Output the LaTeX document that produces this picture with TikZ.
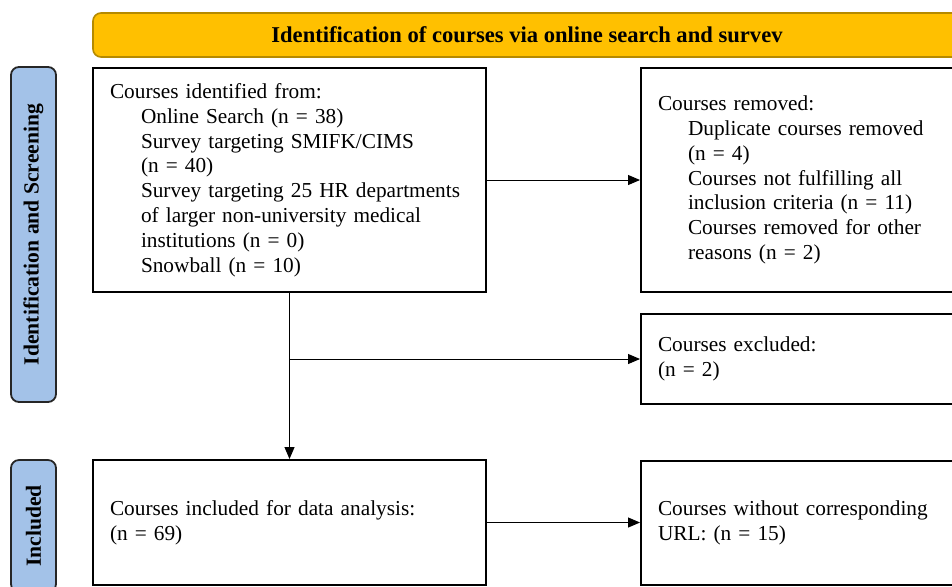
\documentclass[tikz,border=0pt]{standalone}
\usepackage{fontspec}
\setmainfont{Liberation Serif}
\usepackage{xcolor}
\usepackage{tikz}
\usetikzlibrary{positioning, arrows.meta, calc}

\definecolor{bannergold}{HTML}{FFC000}
\definecolor{bannerline}{HTML}{B58A00}
\definecolor{phaseblue}{HTML}{A3C2E8}

\tikzset{
  flowbox/.style={draw=black, line width=1pt, align=left, anchor=center,
    inner xsep=8.5pt, inner ysep=0pt, font=\fontsize{10.65}{12.4}\selectfont},
  phasebox/.style={draw=black!85, fill=phaseblue, line width=0.9pt, rounded corners=4pt,
    rotate=90, minimum height=22.5pt, inner sep=0pt,
    font=\fontsize{10.8}{12.3}\selectfont\bfseries},
  flowarrow/.style={-{Triangle[length=6pt,width=5pt]}, line width=0.5pt}
}

\begin{document}
\begin{tikzpicture}[x=0.5pt, y=-0.5pt]
\path[use as bounding box, clip] (0,0) rectangle (952,586);
% banner on top
\node[draw=bannerline, fill=bannergold, line width=0.8pt, rounded corners=4pt,
  minimum width=434pt, minimum height=22pt, inner sep=0pt,
  font=\fontsize{11.3}{12.3}\selectfont\bfseries] (banner) at (527,35)
  {Identification of courses via online search and survev};
% phase labels on the left
\node[phasebox, minimum width=167.5pt] (phaseid) at (33.5,234.5) {Identification and Screening};
\node[phasebox, minimum width=66pt] (phaseinc) at (33.5,526) {Included};
% left column
\node[flowbox, text width=179.5pt, minimum width=196.5pt, minimum height=112pt] (identified) at (289.5,180)
  {Courses identified from:\\
   \hspace*{15.5pt}Online Search (n = 38)\\
   \hspace*{15.5pt}Survey targeting SMIFK/CIMS\\
   \hspace*{15.5pt}(n = 40)\\
   \hspace*{15.5pt}Survey targeting 25 HR departments\\
   \hspace*{15.5pt}of larger non-university medical\\
   \hspace*{15.5pt}institutions (n = 0)\\
   \hspace*{15.5pt}Snowball (n = 10)};
\node[flowbox, text width=179.5pt, minimum width=196.5pt, minimum height=62.5pt] (included) at (289.5,522.5)
  {Courses included for data analysis:\\(n = 69)};
% right column
\node[flowbox, text width=143.5pt, minimum width=160.5pt, minimum height=112pt] (removed) at (801.5,180)
  {Courses removed:\\
   \hspace*{15pt}Duplicate courses removed\\
   \hspace*{15pt}(n = 4)\\
   \hspace*{15pt}Courses not fulfilling all\\
   \hspace*{15pt}inclusion criteria (n = 11)\\
   \hspace*{15pt}Courses removed for other\\
   \hspace*{15pt}reasons (n = 2)};
\node[flowbox, text width=143.5pt, minimum width=160.5pt, minimum height=45pt] (excluded) at (801.5,359)
  {Courses excluded:\\(n = 2)};
\node[flowbox, text width=143.5pt, minimum width=160.5pt, minimum height=62pt] (nourl) at (801.5,523)
  {Courses without corresponding\\URL: (n = 15)};
% connectors
\coordinate (split) at (identified.south |- excluded.west);
\draw[flowarrow] (identified.east) -- (identified.east -| removed.west);
\draw[flowarrow] (identified.south) -- (included.north);
\draw[flowarrow] (split) -- (excluded.west);
\draw[flowarrow] (included.east) -- (included.east -| nourl.west);
\end{tikzpicture}
\end{document}
